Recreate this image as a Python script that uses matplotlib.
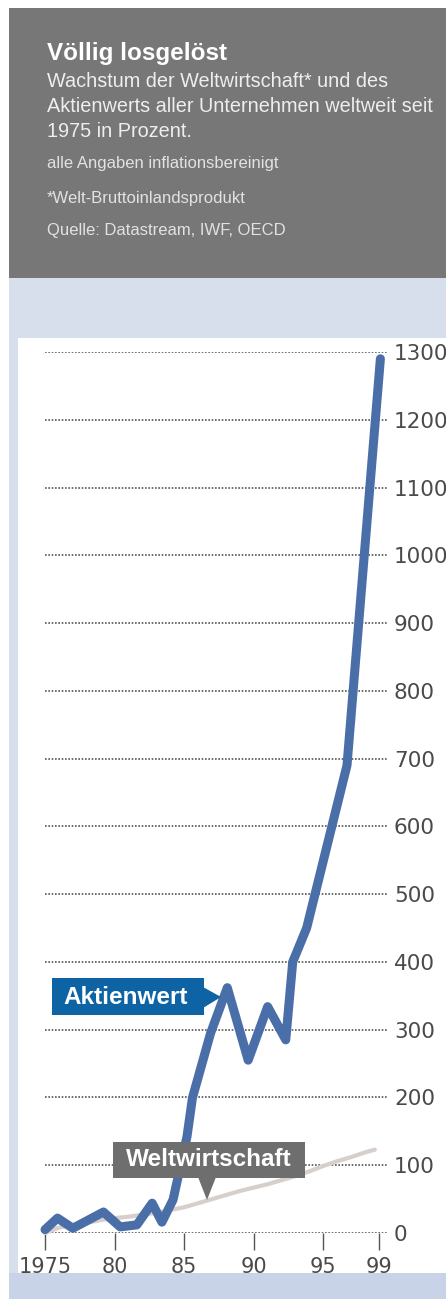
import matplotlib
matplotlib.use("Agg")
import matplotlib.pyplot as plt
from matplotlib.patches import Rectangle, Polygon

# Aktienwert (Prozent seit 1975)
jahre_aktien = [1975.0, 1975.9, 1977.0, 1979.2, 1980.4, 1981.6, 1982.7, 1983.4, 1984.2,
                1985.2, 1985.6, 1986.9, 1988.1, 1989.6, 1991.0, 1992.3, 1992.8, 1993.8,
                1996.7, 1999.1]
aktienwert = [5, 22, 7, 31, 9, 12, 44, 16, 49,
              142, 200, 295, 362, 255, 334, 285, 400, 450,
              690, 1290]

# Weltwirtschaft (Welt-BIP)
jahre_welt = [1975, 1976, 1977, 1978, 1979, 1980, 1981, 1982, 1983, 1984, 1985, 1986,
              1987, 1988, 1989, 1990, 1991, 1992, 1993, 1994, 1995, 1996, 1997, 1998, 1998.7]
weltwirtschaft = [0, 8, 12, 15, 19, 22, 24, 27, 30, 34, 38, 44,
                  50, 56, 62, 67, 72, 78, 84, 91, 99, 106, 112, 119, 123]

x_ticks = [1975, 1980, 1985, 1990, 1995, 1999]
x_labels = ["1975", "80", "85", "90", "95", "99"]
y_ticks = list(range(0, 1301, 100))

W, H = 446, 1299
SANS = ["Liberation Sans", "DejaVu Sans"]


def fx(x):
    return x / W


def fy(y):
    return 1 - y / H


def rect(fig, x0, y0, x1, y1, color, z=0):
    fig.add_artist(Rectangle((fx(x0), fy(y1)), fx(x1 - x0), (y1 - y0) / H,
                             transform=fig.transFigure, color=color, lw=0, zorder=z))


def poly(fig, pts, color):
    fig.add_artist(Polygon([(fx(a), fy(b)) for a, b in pts], closed=True,
                           transform=fig.transFigure, color=color, lw=0, zorder=5))


fig = plt.figure(figsize=(W / 100, H / 100), dpi=100)
fig.patch.set_facecolor("white")

# Hintergruende
rect(fig, 9, 8, W, 278, "#777777")
rect(fig, 9, 278, W, H, "#d7deec")
rect(fig, 9, 1273, W, H, "#c9d3e7")
rect(fig, 18, 338, W, 1273, "white")

# Kopf
fig.text(fx(47), fy(60), "Völlig losgelöst", family=SANS, weight="bold",
         fontsize=17.5, color="white", va="baseline")
for i, line in enumerate(["Wachstum der Weltwirtschaft* und des",
                          "Aktienwerts aller Unternehmen weltweit seit",
                          "1975 in Prozent."]):
    fig.text(fx(47), fy(87 + i * 25), line, family=SANS, fontsize=14.3,
             color="#eeeeee", va="baseline")
for y, line in [(168, "alle Angaben inflationsbereinigt"),
                (203, "*Welt-Bruttoinlandsprodukt"),
                (235, "Quelle: Datastream, IWF, OECD")]:
    fig.text(fx(47), fy(y), line, family=SANS, fontsize=12,
             color="#e2e2e2", va="baseline")

# Diagramm
x_left, x_right = 45, 387
y_top, y_bot = 352, 1233
ax = fig.add_axes([fx(x_left), fy(y_bot), fx(x_right - x_left), (y_bot - y_top) / H])
ax.set_facecolor("none")
px_per_year = (379 - 45) / 24
ax.set_xlim(1975, 1975 + (x_right - x_left) / px_per_year)
ax.set_ylim(0, 1300)

for v in y_ticks:
    ax.axhline(v, color="#555555", lw=1.2, ls=(0, (1, 1)), zorder=1)

ax.plot(jahre_welt, weltwirtschaft, color="#d6cfcb", lw=3, solid_capstyle="round",
        zorder=3, clip_on=False)
ax.plot(jahre_aktien, aktienwert, color="#4a6ea7", lw=6.5, solid_capstyle="round",
        solid_joinstyle="round", zorder=4, clip_on=False)

for s in ax.spines.values():
    s.set_visible(False)
ax.yaxis.tick_right()
ax.set_yticks(y_ticks)
ax.set_yticklabels([str(v) for v in y_ticks])
ax.tick_params(axis="y", length=0, pad=5,
               labelsize=15.5, labelcolor="#4a4a4a")
ax.set_xticks(x_ticks)
ax.set_xticklabels(x_labels)
ax.tick_params(axis="x", length=12, width=1, color="#555555", pad=5,
               labelsize=15, labelcolor="#4a4a4a")
for lab in ax.get_xticklabels() + ax.get_yticklabels():
    lab.set_family("DejaVu Sans")

# Beschriftungen
rect(fig, 52, 978, 204, 1015, "#0e63a5", z=5)
poly(fig, [(203, 987), (221, 997), (203, 1008)], "#0e63a5")
fig.text(fx(126), fy(997), "Aktienwert", family=SANS, weight="bold", fontsize=17.5,
         color="white", ha="center", va="center", zorder=6)

rect(fig, 113, 1142, 305, 1178, "#6e6e6e", z=5)
poly(fig, [(198, 1177), (207, 1200), (216, 1177)], "#6e6e6e")
fig.text(fx(209), fy(1160), "Weltwirtschaft", family=SANS, weight="bold", fontsize=17.5,
         color="white", ha="center", va="center", zorder=6)

fig.savefig("out.png", dpi=100)
